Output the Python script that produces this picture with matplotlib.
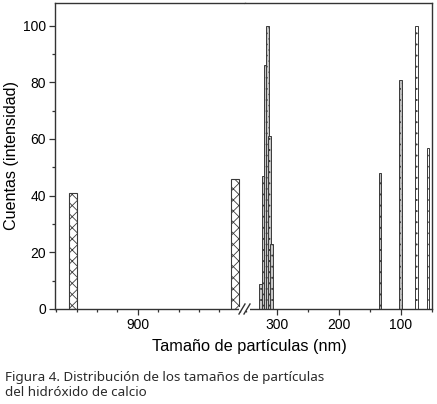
import matplotlib
matplotlib.use("Agg")
import matplotlib.pyplot as plt
from matplotlib.ticker import MultipleLocator, FixedLocator
from matplotlib.lines import Line2D
from matplotlib.patches import Rectangle

# ---- data ----
left_sizes = [1058, 662]            # nm (large particles, left segment)
left_counts = [41, 46]
cluster_sizes = [326, 322, 318.5, 315.3, 312.1, 308.9]
cluster_counts = [9, 47, 86, 100, 61, 23]
small_gray_sizes = [134, 100.5]
small_gray_counts = [48, 81]
small_white_sizes = [74.7, 56.5]
small_white_counts = [100, 57]

x_ticks_left = [900]
x_ticks_right = [300, 200, 100]
y_ticks = [0, 20, 40, 60, 80, 100]

xlabel = "Tamaño de partículas (nm)"
ylabel = "Cuentas (intensidad)"
caption = "Figura 4. Distribución de los tamaños de partículas\ndel hidróxido de calcio"

plt.rcParams['font.family'] = ['Liberation Sans', 'DejaVu Sans']
plt.rcParams['hatch.linewidth'] = 0.6

W, H = 437, 404
fig = plt.figure(figsize=(W / 100, H / 100), dpi=100)

def fx(px):
    return px / W

def fy(py):
    return 1 - py / H

bottom = fy(309)
top = fy(3)
ax1 = fig.add_axes([fx(55), bottom, fx(245) - fx(55), top - bottom])
ax2 = fig.add_axes([fx(245), bottom, fx(432) - fx(245), top - bottom], sharey=ax1)

edge = '#3a3a3a'
ax1.bar(left_sizes, left_counts, width=20, facecolor='white', edgecolor=edge,
        hatch='xxx', linewidth=0.8)
for s, c in zip(cluster_sizes, cluster_counts):
    ax2.bar(s, c, width=4.8, facecolor='#c8c8c8', edgecolor=edge, hatch='...', linewidth=0.7)
ax2.bar(small_gray_sizes, small_gray_counts, width=4.4, facecolor='#bdbdbd',
        edgecolor=edge, hatch='...', linewidth=0.7)
ax2.bar(small_white_sizes, small_white_counts, width=4.4, facecolor='white',
        edgecolor=edge, hatch='...', linewidth=0.7)

ax1.set_xlim(1103, 637)
ax2.set_xlim(351.6, 50)
ax1.set_ylim(0, 108)

for ax in (ax1, ax2):
    for sp in ax.spines.values():
        sp.set_color('#333333')
        sp.set_linewidth(1.0)
    ax.tick_params(axis='both', which='major', direction='out', length=4.5,
                   width=0.9, color='#333333', labelsize=10, pad=2)
    ax.tick_params(axis='both', which='minor', direction='out', length=2.5,
                   width=0.9, color='#333333')

ax1.spines['right'].set_visible(False)
ax2.spines['left'].set_visible(False)
ax2.tick_params(axis='y', which='both', left=False, labelleft=False)

ax1.xaxis.set_major_locator(FixedLocator(x_ticks_left))
ax1.xaxis.set_minor_locator(MultipleLocator(50))
ax2.xaxis.set_major_locator(FixedLocator(x_ticks_right))
ax2.xaxis.set_minor_locator(MultipleLocator(50))
ax1.yaxis.set_major_locator(FixedLocator(y_ticks))
ax1.yaxis.set_minor_locator(MultipleLocator(10))

ax1.set_ylabel(ylabel, fontsize=11.6, labelpad=3)

fig.text(fx(249), fy(347), xlabel, ha='center', va='center', fontsize=11.8)

# axis break marks
fig.patches.append(Rectangle((fx(239), fy(311)), fx(11), fy(307) - fy(311),
                             transform=fig.transFigure, facecolor='white',
                             edgecolor='none', zorder=5))
for x0 in (239, 244):
    fig.lines.append(Line2D([fx(x0), fx(x0 + 6)], [fy(314), fy(304)],
                            transform=fig.transFigure, color='#333333',
                            linewidth=1.0, zorder=6))

fig.text(fx(5), fy(371), caption, ha='left', va='top', fontsize=9.7,
         family=['Noto Sans', 'DejaVu Sans'], color='#2a2a2a', linespacing=1.25)

fig.savefig('out.png', dpi=100)
